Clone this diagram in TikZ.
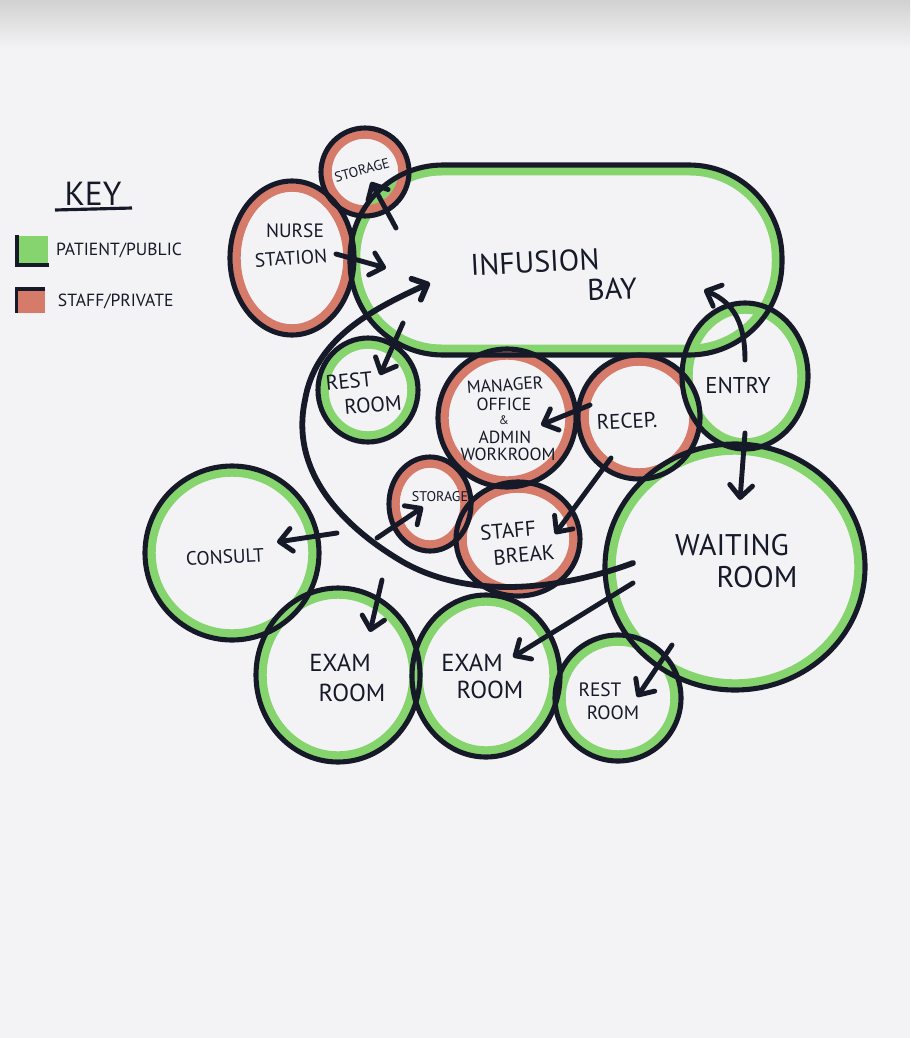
\documentclass[tikz,border=0pt]{standalone}
\usepackage{fontspec}
\setmainfont{PT Sans}
\usepackage{tikz}
\usetikzlibrary{positioning, arrows.meta, shapes.geometric}
\usepackage{xcolor}
\definecolor{ink}{RGB}{22,25,40}
\definecolor{pgreen}{RGB}{134,212,110}
\definecolor{pred}{RGB}{214,122,106}
\definecolor{paper}{RGB}{243,243,245}
\tikzset{
    room/.style={
        ellipse,
        draw=#1,
        line width=4.8pt,
        inner sep=0pt
    },
    inkline/.style={
        draw=ink,
        line width=2.9pt
    },
    flowarrow/.style={
        draw=ink,
        line width=2.8pt,
        line cap=round,
        -{Straight Barb[length=7pt,width=13pt,round]}
    },
    lbl/.style={
        text=ink,
        inner sep=0pt,
        font=\fontsize{#1pt}{#1pt}\selectfont
    }
}
\def\bubbles{
    stortop/365/172/44/44/pred,
    nurse/292/258/62/77/pred,
    restA/368/390/50/52/pgreen,
    manager/507/418/69/69/pred,
    recep/639/417/61/62/pred,
    entry/745/376/63/73/pgreen,
    stormid/430/504/41/47/pred,
    staff/518/539/62/57/pred,
    waiting/735/567/130/123/pgreen,
    consult/232/553/87/87/pgreen,
    examA/338/675/82/87/pgreen,
    examB/486/676/74/81/pgreen,
    restB/618/698/63/63/pgreen}

\begin{document}
\begin{tikzpicture}[x=0.02cm, y=-0.02cm]

      \fill[paper] (0,0) rectangle (910,1038);
      \shade[top color=black!18, bottom color=paper] (0,0) rectangle (910,48);
      \useasboundingbox (0,0) rectangle (910,1038);

      % coloured rings
      \node[room=pgreen, rectangle, rounded corners=1.72cm,
        minimum width=8.4cm, minimum height=3.55cm] (infusion) at (566,260) {};
      \foreach \n/\x/\y/\rx/\ry/\c in \bubbles
        {
          \node[room=\c, minimum width=(2*\rx-13)*0.02cm,
            minimum height=(2*\ry-13)*0.02cm] (\n) at (\x,\y) {};
        }

      % pen outlines
      \draw[inkline, rounded corners=1.86cm] ([shift={(-216,-95)}]infusion.center)
        rectangle ([shift={(216,95)}]infusion.center);
      \foreach \n/\x/\y/\rx/\ry/\c in \bubbles
        {
          \draw[inkline] (\n.center) ellipse [x radius=\rx, y radius=\ry];
        }

      % key
      \node[lbl=19] (key) at (93,194) {KEY};
      \draw[inkline, line width=1.8pt] ([shift={(-38,16)}]key.center) -- ([shift={(39,14)}]key.center);
      \node[fill=pgreen, minimum width=0.62cm, minimum height=0.58cm, inner sep=0pt] (swatchG) at (33,250) {};
      \node[fill=pred, minimum width=0.56cm, minimum height=0.46cm, inner sep=0pt] (swatchR) at (31,301) {};
      \draw[inkline, line width=2pt] (swatchG.north west) -- (swatchG.south west) -- (swatchG.south east);
      \draw[inkline, line width=2pt] (swatchR.south west) -- (swatchR.north west) -- (swatchR.north east);
      \node[lbl=10, right=4pt of swatchG] (t-public) {PATIENT/PUBLIC};
      \node[lbl=10, right=7pt of swatchR] (t-private) {STAFF/PRIVATE};

      % room names
      \node[lbl=17, rotate=3] (t-infusion) at (535,262) {INFUSION};
      \node[lbl=17, rotate=2] (t-bay) at (612,289) {BAY};
      \node[lbl=11] (t-nurse) at (295,231) {NURSE};
      \node[lbl=11, rotate=4] (t-station) at (291,258) {STATION};
      \node[lbl=8, rotate=15] (t-stortop) at (362,170) {STORAGE};
      \node[lbl=12, rotate=6] (t-restA1) at (349,381) {REST};
      \node[lbl=12, rotate=5] (t-restA2) at (373,405) {ROOM};
      \node[lbl=10, rotate=4] (t-manager) at (505,385) {MANAGER};
      \node[lbl=10] (t-office) at (504,404) {OFFICE};
      \node[lbl=7] (t-and) at (504,420) {\&};
      \node[lbl=10] (t-admin) at (505,437) {ADMIN};
      \node[lbl=10] (t-work) at (508,454) {WORKROOM};
      \node[lbl=12, rotate=3] (t-recep) at (627,421) {RECEP.};
      \node[lbl=13] (t-entry) at (738,385) {ENTRY};
      \node[lbl=8] (t-stormid) at (440,497) {STORAGE};
      \node[lbl=12, rotate=5] (t-staff) at (508,531) {STAFF};
      \node[lbl=12, rotate=5] (t-break) at (524,555) {BREAK};
      \node[lbl=17] (t-waiting) at (732,545) {WAITING};
      \node[lbl=17] (t-wroom) at (757,577) {ROOM};
      \node[lbl=11, rotate=3] (t-consult) at (225,557) {CONSULT};
      \node[lbl=14] (t-examA1) at (340,663) {EXAM};
      \node[lbl=14] (t-examA2) at (352,693) {ROOM};
      \node[lbl=14] (t-examB1) at (472,663) {EXAM};
      \node[lbl=14] (t-examB2) at (490,690) {ROOM};
      \node[lbl=11] (t-restB1) at (600,690) {REST};
      \node[lbl=11] (t-restB2) at (613,713) {ROOM};

      % doors on the corridor
      \coordinate (door-store) at (377,538);
      \coordinate (door-consult) at (337,533);
      \coordinate (door-exam) at (382,580);

      % circulation
      \draw[flowarrow, line width=3.3pt] ([shift={(-102,-4)}]waiting.center)
        .. controls (560,590) and (470,600) .. (403,562)
        .. controls (340,525) and (290,470) .. (305,400)
        .. controls (315,340) and (370,310) .. ([shift={(-136,23)}]infusion.center);
      \draw[flowarrow] ([shift={(44,-4)}]nurse.center) -- ([shift={(-180,8)}]infusion.center);
      \draw[flowarrow] ([shift={(-170,-32)}]infusion.center) -- ([shift={(6,10)}]stortop.center);
      \draw[flowarrow] ([shift={(-163,63)}]infusion.center) -- ([shift={(12,-15)}]restA.center);
      \draw[flowarrow] ([shift={(0,-16)}]entry.center)
        .. controls (745,325) and (735,303) .. ([shift={(138,30)}]infusion.center);
      \draw[flowarrow] ([shift={(0,57)}]entry.center) -- ([shift={(5,-67)}]waiting.center);
      \draw[flowarrow] ([shift={(-49,-12)}]recep.center) -- ([shift={(34,7)}]manager.center);
      \draw[flowarrow] ([shift={(-28,41)}]recep.center) -- ([shift={(37,-5)}]staff.center);
      \draw[flowarrow] (door-store) -- ([shift={(-7,3)}]stormid.center);
      \draw[flowarrow] (door-consult) -- ([shift={(45,-11)}]consult.center);
      \draw[flowarrow] (door-exam) -- ([shift={(32,-43)}]examA.center);
      \draw[flowarrow] ([shift={(-102,16)}]waiting.center) -- ([shift={(27,-19)}]examB.center);
      \draw[flowarrow] ([shift={(-63,78)}]waiting.center) -- ([shift={(19,-1)}]restB.center);

\end{tikzpicture}
\end{document}
